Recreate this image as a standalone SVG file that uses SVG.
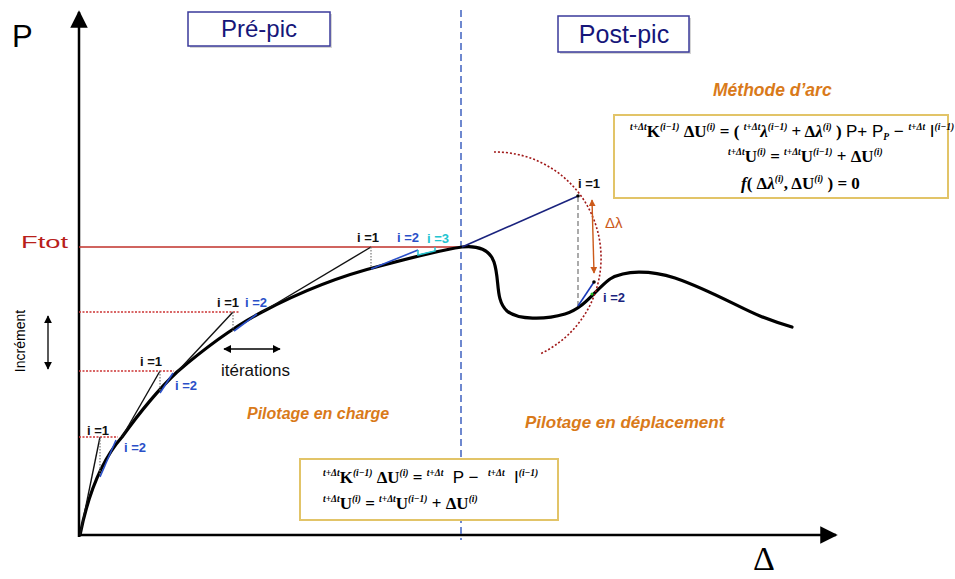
<svg xmlns="http://www.w3.org/2000/svg" width="955" height="579" viewBox="0 0 955 579">
<defs>
<style>
.sans{font-family:"Liberation Sans",Arial,sans-serif}
.eq{font-family:"Liberation Serif","Times New Roman",serif;font-weight:bold;font-size:17px;fill:#000}
.s{font-size:9.5px;font-style:italic}
.lbl{font-family:"Liberation Sans",Arial,sans-serif;font-size:13px;font-weight:bold}
.orange{font-family:"Liberation Sans",Arial,sans-serif;font-weight:bold;font-style:italic;fill:#d97a1a}
.ttl{font-family:"Liberation Sans",Arial,sans-serif;fill:#16167a}
.tbox{fill:#fff;stroke:#3a3a9a;stroke-width:1.5}
.ebox{fill:#fff;stroke:#e2c468;stroke-width:2}
.redd{stroke:#c33;stroke-width:1.3;stroke-dasharray:2 1.5;fill:none}
.thin{stroke:#111;stroke-width:1.4;fill:none}
.blue{stroke:#2a4fc8;stroke-width:1.6;fill:none}
.vdot{stroke:#777;stroke-width:1.2;stroke-dasharray:1.5 1.5;fill:none}
</style>
<marker id="ah" viewBox="0 0 10 10" refX="9" refY="5" markerWidth="7" markerHeight="7" orient="auto-start-reverse"><path d="M0,0 L10,5 L0,10 z" fill="#000"/></marker>
<marker id="ahs" viewBox="0 0 10 10" refX="9" refY="5" markerWidth="6" markerHeight="6" orient="auto-start-reverse"><path d="M0,0 L10,5 L0,10 z" fill="#000"/></marker>
<marker id="aho" viewBox="0 0 10 10" refX="9" refY="5" markerWidth="5" markerHeight="5" orient="auto-start-reverse"><path d="M0,0 L10,5 L0,10 z" fill="#cc5a1a"/></marker>
</defs>
<rect width="955" height="579" fill="#fff"/>

<g id="axes">
<line x1="79" y1="537" x2="79" y2="12" stroke="#000" stroke-width="2.5" marker-end="url(#ah)"/>
<line x1="78" y1="535" x2="836" y2="535" stroke="#000" stroke-width="2.5" marker-end="url(#ah)"/>
<text x="12" y="47" class="sans" font-size="31">P</text>
<text x="753" y="570" font-family="'Liberation Serif',serif" font-size="34">Δ</text>
</g>

<g id="levels">
<line x1="79" y1="247" x2="462" y2="247" stroke="#c0302a" stroke-width="1.6"/>
<text x="21" y="248" class="sans" font-size="17" fill="#b8201a" textLength="47" lengthAdjust="spacingAndGlyphs">Ftot</text>
<line x1="79" y1="312" x2="240" y2="312" class="redd"/>
<line x1="79" y1="371" x2="174" y2="371" class="redd"/>
<line x1="79" y1="437" x2="118" y2="437" class="redd"/>
<line x1="461" y1="10" x2="461" y2="540" stroke="#3f62c0" stroke-width="1.5" stroke-dasharray="7 4"/>
</g>

<g id="increment">
<text transform="translate(25,341) rotate(-90)" text-anchor="middle" class="sans" font-size="14">Incrément</text>
<line x1="48" y1="316" x2="48" y2="369" stroke="#000" stroke-width="1.3" marker-start="url(#ahs)" marker-end="url(#ahs)"/>
</g>

<g id="pre-pic">
<rect x="190" y="14" width="142" height="34" fill="#888" opacity="0.35"/>
<rect x="188" y="12" width="142" height="34" class="tbox"/>
<text x="259" y="37" text-anchor="middle" class="ttl" font-size="24">Pré-pic</text>
</g>
<g id="post-pic">
<rect x="560" y="18" width="131" height="36" fill="#888" opacity="0.35"/>
<rect x="558" y="16" width="131" height="36" class="tbox"/>
<text x="624" y="43" text-anchor="middle" class="ttl" font-size="25">Post-pic</text>
</g>

<g id="curve">
<path d="M80,535 C88,495 100,462 122,437 C140,412 160,388 177,372 C205,348 235,326 262,312 C300,292 340,276 380,266 C410,258 440,250 462,247 C478,245 490,250 494,262 C500,280 495,300 507,311 C518,320 545,320 565,314 C585,308 595,290 610,279 C625,270 650,270 675,278 C710,290 740,308 760,316 C775,322 785,325 792,327" fill="none" stroke="#000" stroke-width="3.2" stroke-linecap="round"/>
</g>

<g id="connectors">
<line x1="80" y1="535" x2="100" y2="437" class="thin"/>
<line x1="100" y1="437" x2="100" y2="476" class="vdot"/>
<line x1="100" y1="477" x2="116" y2="440" class="blue"/>
<line x1="122" y1="437" x2="160" y2="371" class="thin"/>
<line x1="160" y1="371" x2="160" y2="392" class="vdot"/>
<line x1="160" y1="393" x2="173" y2="373" class="blue"/>
<line x1="177" y1="372" x2="233" y2="312" class="thin"/>
<line x1="233" y1="312" x2="233" y2="331" class="vdot"/>
<line x1="234" y1="331" x2="257" y2="314" class="blue"/>
<line x1="262" y1="312" x2="371" y2="247" class="thin"/>
<line x1="371" y1="247" x2="371" y2="268" class="vdot"/>
<line x1="371" y1="269" x2="418" y2="250" class="blue"/>
<polyline points="418,250 418,255 435,251 435,247" fill="none" stroke="#22c4d0" stroke-width="1.5"/>
<line x1="224" y1="349" x2="280" y2="349" stroke="#000" stroke-width="1.3" marker-start="url(#ahs)" marker-end="url(#ahs)"/>
<path d="M494,152 A106,106 0 0 1 540,354" fill="none" stroke="#a01818" stroke-width="1.6" stroke-dasharray="2 2"/>
<line x1="462" y1="247" x2="578" y2="196" stroke="#1a237e" stroke-width="1.6"/>
<circle cx="578" cy="196" r="1.8" fill="#000"/>
<line x1="578" y1="197" x2="578" y2="306" stroke="#666" stroke-width="1.1" stroke-dasharray="5 3"/>
<line x1="578" y1="306" x2="594" y2="282" stroke="#1a3ab8" stroke-width="1.6"/>
<circle cx="594" cy="282" r="1.8" fill="#000"/>
<circle cx="592" cy="294" r="1.5" fill="#22bb22"/>
<line x1="592" y1="200" x2="594" y2="273" stroke="#cc5a1a" stroke-width="1.4" marker-start="url(#aho)" marker-end="url(#aho)"/>
</g>

<g id="labels">
<text x="87" y="435" class="lbl" fill="#111">i =1</text>
<text x="124" y="452" class="lbl" fill="#2a4fc8">i =2</text>
<text x="140" y="366" class="lbl" fill="#111">i =1</text>
<text x="175" y="390" class="lbl" fill="#2a4fc8">i =2</text>
<text x="217" y="307" class="lbl" fill="#111">i =1</text>
<text x="245" y="307" class="lbl" fill="#2a4fc8">i =2</text>
<text x="357" y="242" class="lbl" fill="#111">i =1</text>
<text x="397" y="242" class="lbl" fill="#2a4fc8">i =2</text>
<text x="427" y="243" class="lbl" fill="#22c4d0">i =3</text>
<text x="221" y="376" class="sans" font-size="17" fill="#111">itérations</text>
<text x="578" y="188" class="lbl" fill="#111">i =1</text>
<text x="603" y="302" class="lbl" fill="#1a237e">i =2</text>
<text x="605" y="228" class="sans" font-size="15" fill="#cc5a1a">Δλ</text>
<text x="247" y="419" class="orange" font-size="16">Pilotage en charge</text>
<text x="525" y="428" class="orange" font-size="17">Pilotage en déplacement</text>
<text x="713" y="96" class="orange" font-size="17.5">Méthode d’arc</text>
</g>

<g id="arc-method-box">
<rect x="614" y="115" width="334" height="83" class="ebox"/>
<text class="eq" x="630" y="137"><tspan class="s" dy="-7">t+Δt</tspan><tspan dy="7">K</tspan><tspan class="s" dy="-7">(i−1)</tspan><tspan dy="7"> ΔU</tspan><tspan class="s" dy="-7">(i)</tspan><tspan dy="7"> = ( </tspan><tspan class="s" dy="-7">t+Δt</tspan><tspan dy="7" font-style="italic">λ</tspan><tspan class="s" dy="-7">(i−1)</tspan><tspan dy="7"> + Δ</tspan><tspan font-style="italic">λ</tspan><tspan class="s" dy="-7">(i)</tspan><tspan dy="7"> ) </tspan><tspan class="sans" font-weight="normal">P+ P</tspan><tspan class="s" dy="3">P</tspan><tspan class="sans" font-weight="normal" dy="-3"> − </tspan><tspan class="s" dy="-7">t+Δt</tspan><tspan class="sans" font-weight="normal" dy="7"> I</tspan><tspan class="s" dy="-7">(i−1)</tspan></text>
<text class="eq" x="728" y="162"><tspan class="s" dy="-7">t+Δt</tspan><tspan dy="7">U</tspan><tspan class="s" dy="-7">(i)</tspan><tspan dy="7"> = </tspan><tspan class="s" dy="-7">t+Δt</tspan><tspan dy="7">U</tspan><tspan class="s" dy="-7">(i−1)</tspan><tspan dy="7"> + ΔU</tspan><tspan class="s" dy="-7">(i)</tspan></text>
<text class="eq" x="741" y="189"><tspan font-style="italic">f</tspan><tspan>( Δ</tspan><tspan font-style="italic">λ</tspan><tspan class="s" dy="-7">(i)</tspan><tspan dy="7">, ΔU</tspan><tspan class="s" dy="-7">(i)</tspan><tspan dy="7"> ) = 0</tspan></text>
</g>

<g id="load-control-box">
<rect x="300" y="459" width="258" height="61" class="ebox"/>
<text class="eq" x="323" y="483" xml:space="preserve"><tspan class="s" dy="-7">t+Δt</tspan><tspan dy="7">K</tspan><tspan class="s" dy="-7">(i−1)</tspan><tspan dy="7"> ΔU</tspan><tspan class="s" dy="-7">(i)</tspan><tspan dy="7"> = </tspan><tspan class="s" dy="-7">t+Δt</tspan><tspan class="sans" font-weight="normal" dy="7">  P −  </tspan><tspan class="s" dy="-7">t+Δt</tspan><tspan class="sans" font-weight="normal" dy="7">  I</tspan><tspan class="s" dy="-7">(i−1)</tspan></text>
<text class="eq" x="323" y="509"><tspan class="s" dy="-7">t+Δt</tspan><tspan dy="7">U</tspan><tspan class="s" dy="-7">(i)</tspan><tspan dy="7"> = </tspan><tspan class="s" dy="-7">t+Δt</tspan><tspan dy="7">U</tspan><tspan class="s" dy="-7">(i−1)</tspan><tspan dy="7"> + ΔU</tspan><tspan class="s" dy="-7">(i)</tspan></text>
</g>
</svg>
